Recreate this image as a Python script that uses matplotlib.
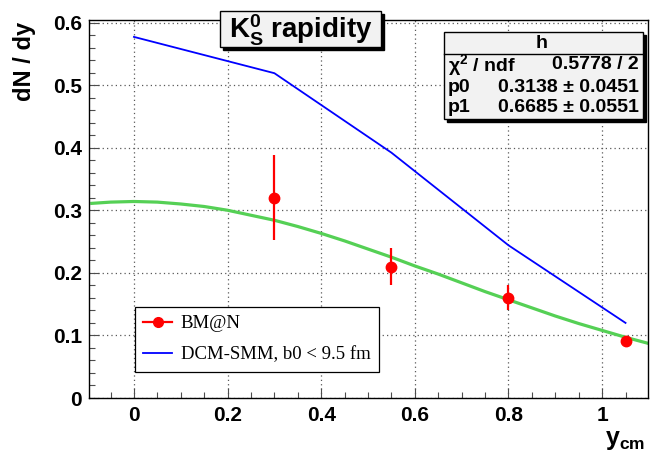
import numpy as np
import matplotlib
matplotlib.use("Agg")
import matplotlib.pyplot as plt
from matplotlib.lines import Line2D
from matplotlib.patches import Rectangle

plt.rcParams['font.family'] = ['Liberation Sans', 'DejaVu Sans']
plt.rcParams['mathtext.fontset'] = 'custom'
plt.rcParams['mathtext.rm'] = 'Liberation Sans:bold'
plt.rcParams['mathtext.bf'] = 'Liberation Sans:bold'
plt.rcParams['mathtext.default'] = 'rm'

# BM@N points
bmn_y = [0.30, 0.55, 0.80, 1.05]
bmn_dndy = [0.320, 0.210, 0.160, 0.091]
bmn_err = [0.068, 0.030, 0.020, 0.008]

# DCM-SMM, b0 < 9.5 fm
dcm_y = [0.0, 0.30, 0.55, 0.80, 1.05]
dcm_dndy = [0.577, 0.519, 0.392, 0.244, 0.120]

# fit curve (green)
fit_y = [-0.09, -0.05, 0.0, 0.05, 0.1, 0.15, 0.2, 0.25, 0.3, 0.35, 0.4,
         0.45, 0.5, 0.55, 0.6, 0.65, 0.7, 0.75, 0.8, 0.85, 0.9, 0.95, 1.0,
         1.05, 1.1]
fit_dndy = [0.311, 0.313, 0.314, 0.313, 0.310, 0.306, 0.300, 0.292, 0.284,
            0.274, 0.263, 0.251, 0.238, 0.225, 0.211, 0.198, 0.184, 0.170,
            0.157, 0.144, 0.131, 0.119, 0.108, 0.097, 0.087]

# stats box
stat_name = "h"
stat_rows = [("χ$^2$ / ndf", "0.5778 / 2"),
             ("p0", "0.3138 ± 0.0451"),
             ("p1", "0.6685 ± 0.0551")]

W, H = 652, 455
fig = plt.figure(figsize=(W / 100, H / 100), dpi=100)
ax = fig.add_axes([89 / W, 1 - 398 / H, (648 - 89) / W, (398 - 20) / H])

ax.plot(fit_y, fit_dndy, color='#55d055', lw=2.3, zorder=2)
blue, = ax.plot(dcm_y, dcm_dndy, color='#0000ff', lw=1.3, zorder=3)
ax.errorbar(bmn_y, bmn_dndy, yerr=bmn_err, fmt='o', color='#ff0000',
            ms=7.5, elinewidth=1.6, capsize=0, zorder=4)

ax.set_xlim(-0.096, 1.098)
ax.set_ylim(0, 0.604)
ax.set_xticks([0, 0.2, 0.4, 0.6, 0.8, 1.0])
ax.set_xticklabels(['0', '0.2', '0.4', '0.6', '0.8', '1'])
ax.set_xticks(np.arange(-0.05, 1.1, 0.05), minor=True)
ax.set_yticks([0, 0.1, 0.2, 0.3, 0.4, 0.5, 0.6])
ax.set_yticklabels(['0', '0.1', '0.2', '0.3', '0.4', '0.5', '0.6'])
ax.set_yticks(np.arange(0, 0.61, 0.02), minor=True)
ax.tick_params(which='both', direction='in', top=False, right=False,
               labelsize=15, width=0.8, color='0.3')
ax.tick_params(which='major', length=7)
ax.tick_params(which='minor', length=4)
ax.tick_params(axis='x', pad=6)
ax.tick_params(axis='y', pad=5)
for lab in ax.get_xticklabels() + ax.get_yticklabels():
    lab.set_fontweight('bold')
ax.grid(True, which='major', color='0.35', linestyle=(0, (1, 2.5)), lw=0.9)
for s in ax.spines.values():
    s.set_linewidth(1.0)

fig.text(24 / W, 1 - 22 / H, "dN / dy", rotation=90, ha='center', va='top',
         fontsize=17, fontweight='bold')
fig.text(645 / W, 1 - 452 / H, "y$_{cm}$", ha='right', va='bottom',
         fontsize=18, fontweight='bold')

leg_handles = [Line2D([], [], color='#ff0000', marker='o', ms=7, lw=1.6), blue]
leg = ax.legend(leg_handles, ['BM@N', 'DCM-SMM, b0 < 9.5 fm'],
                loc='lower left', bbox_to_anchor=(135 / W, 1 - 372 / H),
                bbox_transform=fig.transFigure, borderaxespad=0,
                fancybox=False, edgecolor='black', framealpha=1,
                handlelength=1.5, handletextpad=0.5, borderpad=0.45,
                labelspacing=0.75,
                prop={'family': 'Liberation Serif', 'size': 13.5})
leg.get_frame().set_linewidth(0.9)


def shadow_box(x0, y0, x1, y1, sh=3):
    # pixel coords, y from top
    fig.patches.append(Rectangle(((x0 + sh) / W, 1 - (y1 + sh) / H),
                                 (x1 - x0) / W, (y1 - y0) / H,
                                 transform=fig.transFigure, facecolor='black',
                                 edgecolor='black', zorder=5))
    fig.patches.append(Rectangle((x0 / W, 1 - y1 / H), (x1 - x0) / W,
                                 (y1 - y0) / H, transform=fig.transFigure,
                                 facecolor='#f2f2f2', edgecolor='black',
                                 lw=1.0, zorder=6))


# title box
shadow_box(220, 11, 381, 47)
fig.text((220 + 381) / 2 / W, 1 - 30 / H, "K$^{0}_{S}$ rapidity", ha='center',
         va='center', fontsize=20, fontweight='bold', zorder=7)

# stats box
shadow_box(444, 32, 643, 119, sh=3)
fig.add_artist(Line2D([444 / W, 643 / W], [1 - 54 / H, 1 - 54 / H],
                      color='black', lw=1.0, zorder=7))
fig.text(542 / W, 1 - 43 / H, stat_name, ha='center', va='center',
         fontsize=14, fontweight='bold', zorder=7)
row_y = [65, 87, 108]
for (lab, val), yy in zip(stat_rows, row_y):
    fig.text(448 / W, 1 - yy / H, lab, ha='left', va='center',
             fontsize=14, fontweight='bold', zorder=7)
    fig.text(639 / W, 1 - yy / H, val, ha='right', va='center',
             fontsize=14, fontweight='bold', zorder=7)

fig.savefig("out.png", dpi=100)
